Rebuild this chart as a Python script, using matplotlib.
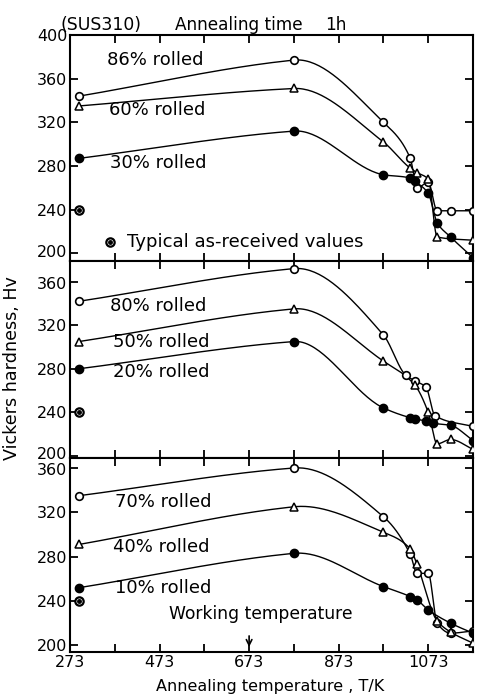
import numpy as np
import matplotlib.pyplot as plt
import matplotlib.transforms as mtransforms

plt.rcParams['font.family'] = 'DejaVu Sans'

# annealing temperatures (K) and hardness (Hv) for each rolling reduction
# top panel
t86 = [293, 773, 973, 1033, 1048, 1073, 1093, 1123, 1173]
hv86 = [344, 377, 320, 287, 260, 265, 239, 239, 239]
t60 = [293, 773, 973, 1033, 1048, 1073, 1093, 1173]
hv60 = [335, 351, 302, 278, 274, 268, 215, 212]
t30 = [293, 773, 973, 1033, 1043, 1073, 1093, 1123, 1173]
hv30 = [287, 312, 272, 269, 266, 255, 228, 215, 196]

# middle panel
t80 = [293, 773, 973, 1023, 1043, 1068, 1088, 1173]
hv80 = [342, 372, 311, 274, 269, 263, 237, 227]
t50 = [293, 773, 973, 1043, 1073, 1093, 1123, 1173]
hv50 = [305, 335, 287, 265, 240, 211, 215, 206]
t20 = [293, 773, 973, 1033, 1043, 1068, 1083, 1123, 1173]
hv20 = [280, 305, 244, 235, 234, 232, 230, 228, 214]

# bottom panel
t70 = [293, 773, 973, 1033, 1048, 1073, 1093, 1123, 1173]
hv70 = [335, 360, 316, 282, 265, 265, 220, 211, 213]
t40 = [293, 773, 973, 1033, 1048, 1093, 1123, 1173]
hv40 = [291, 325, 302, 287, 273, 222, 212, 202]
t10 = [293, 773, 973, 1033, 1048, 1073, 1123, 1173]
hv10 = [252, 283, 253, 244, 241, 232, 220, 211]

typical_t = 293
typical_hv = 240

xtick_major = [273, 473, 673, 873, 1073]
xtick_minor = [373, 573, 773, 973]


def smooth(x, y, n=40):
    # monotone cubic through the points; at a peak after a long run keep
    # some of the run's slope so the long segment stays nearly straight
    x = np.asarray(x, float)
    y = np.asarray(y, float)
    h = np.diff(x)
    d = np.diff(y) / h
    m = np.zeros_like(y)
    m[0], m[-1] = d[0], d[-1]
    for k in range(1, len(x) - 1):
        if d[k - 1] * d[k] > 0:
            w1 = 2 * h[k] + h[k - 1]
            w2 = h[k] + 2 * h[k - 1]
            m[k] = (w1 + w2) / (w1 / d[k - 1] + w2 / d[k])
        elif h[k - 1] >= 2 * h[k]:
            m[k] = 0.6 * d[k - 1]
    xs, ys = [], []
    t = np.linspace(0, 1, n)
    h00 = 2 * t**3 - 3 * t**2 + 1
    h10 = t**3 - 2 * t**2 + t
    h01 = -2 * t**3 + 3 * t**2
    h11 = t**3 - t**2
    for k in range(len(h)):
        xs.append(x[k] + t * h[k])
        ys.append(h00 * y[k] + h10 * h[k] * m[k] + h01 * y[k + 1] + h11 * h[k] * m[k + 1])
    return np.concatenate(xs), np.concatenate(ys)


def series(ax, t, hv, style):
    xs, ys = smooth(t, hv)
    ax.plot(xs, ys, color='black', lw=1.0, zorder=2)
    if style == 'open':
        ax.plot(t, hv, 'o', ms=5.5, mfc='white', mec='black', mew=1.2, zorder=3)
    elif style == 'tri':
        ax.plot(t, hv, '^', ms=6, mfc='white', mec='black', mew=1.1, zorder=3)
    else:
        ax.plot(t, hv, 'o', ms=6, mfc='black', mec='black', zorder=3)


def typical(ax, x, y):
    ax.plot(x, y, 'o', ms=6, mfc='white', mec='black', mew=1.6, zorder=3)
    ax.plot(x, y, 'o', ms=2.5, mfc='black', mec='black', zorder=4)


fig = plt.figure(figsize=(4.79, 6.97), dpi=100)
W, H = 479, 697
left, right = 70 / W, 473 / W

def make_ax(top_px, bot_px, ylim, yticks):
    ax = fig.add_axes([left, 1 - bot_px / H, right - left, (bot_px - top_px) / H])
    ax.set_xlim(273, 1173)
    ax.set_ylim(*ylim)
    ax.set_xticks(xtick_major)
    ax.set_xticks(xtick_minor, minor=True)
    ax.set_yticks(yticks)
    ax.tick_params(which='both', direction='in', top=True, right=True,
                   length=6, width=1.3, labelsize=11.5, pad=2)
    for s in ax.spines.values():
        s.set_linewidth(1.5)
    return ax


ax1 = make_ax(35, 261, (193, 400), [200, 240, 280, 320, 360, 400])
ax2 = make_ax(261, 458, (198, 379), [200, 240, 280, 320, 360])
ax3 = make_ax(458, 652, (194, 369), [200, 240, 280, 320, 360])
ax1.tick_params(labelbottom=False)
ax2.tick_params(labelbottom=False)

# the 200 / 360 labels at the panel joins sit very close; nudge them apart
for ax, idx, dy in [(ax1, 0, 0.02), (ax2, -1, -0.01), (ax2, 0, 0.025), (ax3, -1, -0.01)]:
    lab = ax.yaxis.get_major_ticks()[idx].label1
    lab.set_transform(lab.get_transform() +
                      mtransforms.ScaledTranslation(0, dy, fig.dpi_scale_trans))

series(ax1, t86, hv86, 'open')
series(ax1, t60, hv60, 'tri')
series(ax1, t30, hv30, 'fill')
typical(ax1, typical_t, typical_hv)

series(ax2, t80, hv80, 'open')
series(ax2, t50, hv50, 'tri')
series(ax2, t20, hv20, 'fill')
typical(ax2, typical_t, typical_hv)

series(ax3, t70, hv70, 'open')
series(ax3, t40, hv40, 'tri')
series(ax3, t10, hv10, 'fill')
typical(ax3, typical_t, typical_hv)

fs = 13
ax1.text(355, 377, '86% rolled', fontsize=fs, va='center')
ax1.text(360, 331, '60% rolled', fontsize=fs, va='center')
ax1.text(362, 283, '30% rolled', fontsize=fs, va='center')
typical(ax1, 363, 210)
ax1.text(400, 210, 'Typical as-received values', fontsize=fs, va='center')

ax2.text(362, 338, '80% rolled', fontsize=fs, va='center')
ax2.text(369, 305, '50% rolled', fontsize=fs, va='center')
ax2.text(369, 277, '20% rolled', fontsize=fs, va='center')

ax3.text(374, 329, '70% rolled', fontsize=fs, va='center')
ax3.text(369, 289, '40% rolled', fontsize=fs, va='center')
ax3.text(374, 252, '10% rolled', fontsize=fs, va='center')
ax3.text(698, 228, 'Working temperature', fontsize=12.3, va='center', ha='center')
ax3.annotate('', xy=(673, 196), xytext=(673, 211),
             arrowprops=dict(arrowstyle='->', color='black', lw=1.2))

fig.text(60 / W, 1 - 25 / H, '(SUS310)', fontsize=12.4, va='center')
fig.text(175 / W, 1 - 25 / H, 'Annealing time', fontsize=12.2, va='center')
fig.text(325 / W, 1 - 25 / H, '1h', fontsize=12.2, va='center')
fig.text(270 / W, 1 - 686 / H, 'Annealing temperature , T/K', fontsize=11.5,
         ha='center', va='center')
fig.text(12 / W, 1 - 368 / H, 'Vickers hardness, Hv', fontsize=12.6,
         ha='center', va='center', rotation=90)

fig.savefig('out.png', dpi=100)
